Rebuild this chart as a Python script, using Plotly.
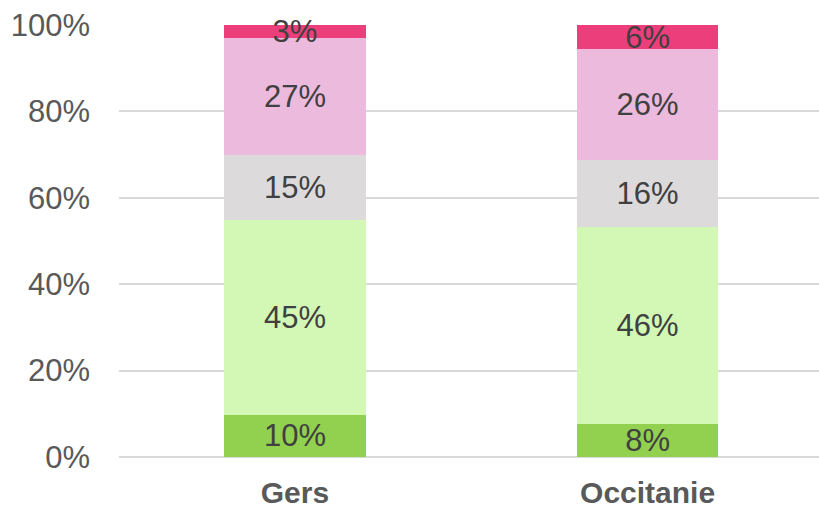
import plotly.graph_objects as go

categories = ["Gers", "Occitanie"]
series_names = ["S1", "S2", "S3", "S4", "S5"]
values = {
    "S1": [9.8, 7.6],
    "S2": [45.1, 45.6],
    "S3": [15.1, 15.6],
    "S4": [27.1, 25.6],
    "S5": [2.9, 5.6],
}
colors = ["#92D050", "#D3F8B6", "#DCDADB", "#EBBADD", "#EC3E7A"]
y_ticks = [0, 20, 40, 60, 80, 100]
y_ticklabels = ["0%", "20%", "40%", "60%", "80%", "100%"]

xpos = list(range(len(categories)))
fig = go.Figure()
for name, col in zip(series_names, colors):
    fig.add_trace(go.Bar(
        x=xpos, y=values[name], name=name,
        marker=dict(color=col, line=dict(width=0)),
        width=0.4,
        text=[f"{v:.0f}%" for v in values[name]],
        texttemplate="%{text}",
        textposition="inside",
        insidetextanchor="middle",
        textangle=0,
        constraintext="none",
        cliponaxis=False,
        textfont=dict(family="Liberation Sans, Arial", size=31, color="#404040"),
        hoverinfo="skip",
    ))

fig.update_layout(
    barmode="stack",
    width=819, height=508,
    margin=dict(l=119, r=0, t=25, b=51),
    paper_bgcolor="white", plot_bgcolor="white",
    showlegend=False,
    font=dict(family="Liberation Sans, Arial", color="#595959"),
)
fig.update_xaxes(
    range=[-0.499, 1.486],
    tickvals=xpos, ticktext=[f"<b>{c}</b>" for c in categories],
    tickfont=dict(size=30, color="#595959"),
    showgrid=False, zeroline=False, showline=False, ticks="",
    ticklabelstandoff=15,
)
fig.update_yaxes(
    range=[0, 100],
    tickvals=y_ticks, ticktext=y_ticklabels,
    tickfont=dict(size=31, color="#595959"),
    showgrid=True, gridcolor="#D9D9D9", gridwidth=1.5,
    zeroline=True, zerolinecolor="#D9D9D9", zerolinewidth=2,
    showline=False, ticks="", ticklabelstandoff=28,
)
fig.write_html(
    "out.html",
    config={"displayModeBar": False},
    post_script="document.body.style.margin='0';document.body.style.overflow='hidden';",
)
